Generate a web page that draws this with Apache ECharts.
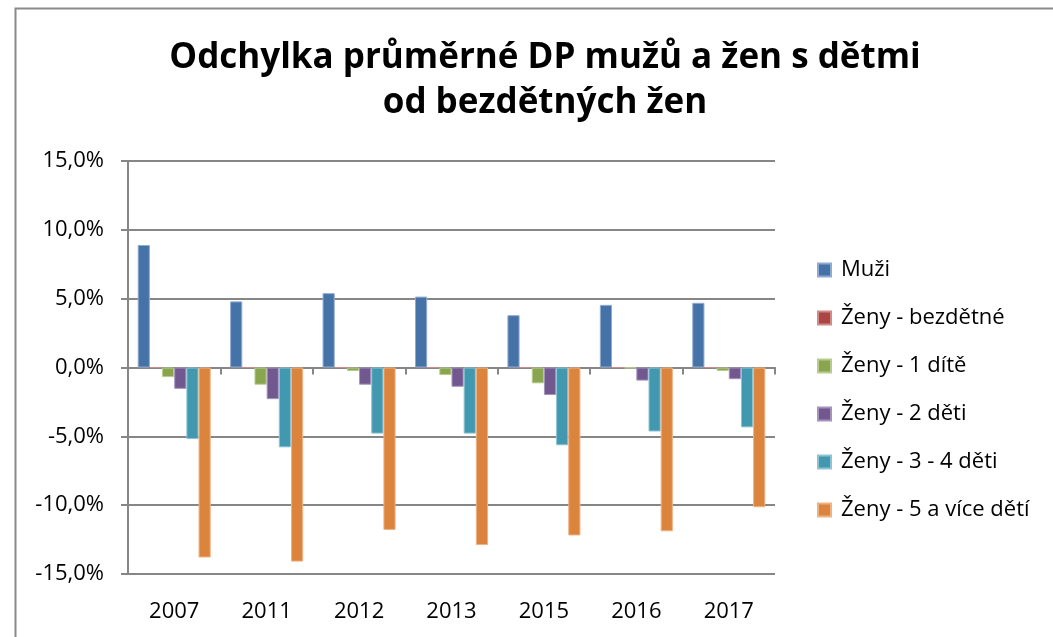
<!DOCTYPE html>
<html>
<head>
<meta charset="utf-8">
<script src="https://cdn.jsdelivr.net/npm/echarts@6/dist/echarts.min.js"></script>
<style>html,body{margin:0;padding:0;background:#fff}#c{width:1053px;height:637px}</style>
</head>
<body>
<div id="c"></div>
<script>
const categories = ['2007', '2011', '2012', '2013', '2015', '2016', '2017'];
const muzi      = [8.9, 4.8, 5.4, 5.15, 3.8, 4.55, 4.7];
const bezdetne  = [0, 0, 0, 0, 0, 0, 0];
const jednoDite = [-0.7, -1.25, -0.25, -0.55, -1.15, -0.05, -0.25];
const dveDeti   = [-1.55, -2.3, -1.25, -1.4, -2.0, -0.95, -0.85];
const triCtyri  = [-5.2, -5.8, -4.8, -4.8, -5.65, -4.65, -4.35];
const petVice   = [-13.8, -14.1, -11.8, -12.9, -12.2, -11.9, -10.15];
const seriesNames = ['Muži', 'Ženy - bezdětné', 'Ženy - 1 dítě', 'Ženy - 2 děti', 'Ženy - 3 - 4 děti', 'Ženy - 5 a více dětí'];
const colors = ['#4572A7', '#AA4643', '#89A54E', '#71588F', '#4198AF', '#DB843D'];
const borders = ['#8FAAD0', '#D08A88', '#B8CC90', '#A592BD', '#8CC4D4', '#F0B283'];
const allData = [muzi, bezdetne, jednoDite, dveDeti, triCtyri, petVice];

const font = '"Open Sans", Lato, sans-serif';
const chart = echarts.init(document.getElementById('c'), null, {renderer: 'canvas'});
chart.setOption({
  animation: false,
  backgroundColor: '#fff',
  color: colors,
  graphic: [{
    type: 'rect', left: 13, top: 6, z: -1,
    shape: {width: 1100, height: 700},
    style: {fill: 'none', stroke: '#8a8a8a', lineWidth: 2}
  }],
  title: {
    text: 'Odchylka průměrné DP mužů a žen s dětmi\nod bezdětných žen',
    left: 540, textAlign: 'center', top: 31,
    textStyle: {fontFamily: font, fontWeight: 'bold', fontSize: 35, lineHeight: 45, color: '#000'}
  },
  legend: {
    orient: 'vertical', left: 812, top: 254,
    itemWidth: 13, itemHeight: 13, itemGap: 26,
    icon: 'rect',
    textStyle: {fontFamily: font, fontSize: 22, color: '#000', padding: [0, 0, 0, 5]},
    data: seriesNames
  },
  grid: {left: 128, right: 278, top: 161, bottom: 63, containLabel: false},
  xAxis: [{
    type: 'category', data: categories,
    axisLine: {onZero: true, lineStyle: {color: '#868686', width: 2}},
    axisTick: {show: true, length: 7, lineStyle: {color: '#868686', width: 2}},
    axisLabel: {show: false},
    splitLine: {show: false}
  }, {
    type: 'category', data: categories, position: 'bottom',
    axisLine: {show: false, onZero: false},
    axisTick: {show: false},
    axisLabel: {fontFamily: font, fontSize: 22, color: '#000', margin: 27}
  }],
  yAxis: {
    type: 'value', min: -15, max: 15, interval: 5,
    axisLine: {show: true, lineStyle: {color: '#868686', width: 2}},
    axisTick: {show: true, length: 7, lineStyle: {color: '#868686', width: 2}},
    axisLabel: {fontFamily: font, fontSize: 22, color: '#000', margin: 24,
      formatter: v => v.toFixed(1).replace('.', ',') + '%'},
    splitLine: {lineStyle: {color: '#868686', width: 2}}
  },
  series: allData.map((d, i) => ({
    name: seriesNames[i], type: 'bar', data: d, xAxisIndex: 0,
    barGap: '0%', barCategoryGap: '21%',
    itemStyle: {color: colors[i], borderColor: borders[i], borderWidth: 1}
  }))
});
</script>
</body>
</html>
